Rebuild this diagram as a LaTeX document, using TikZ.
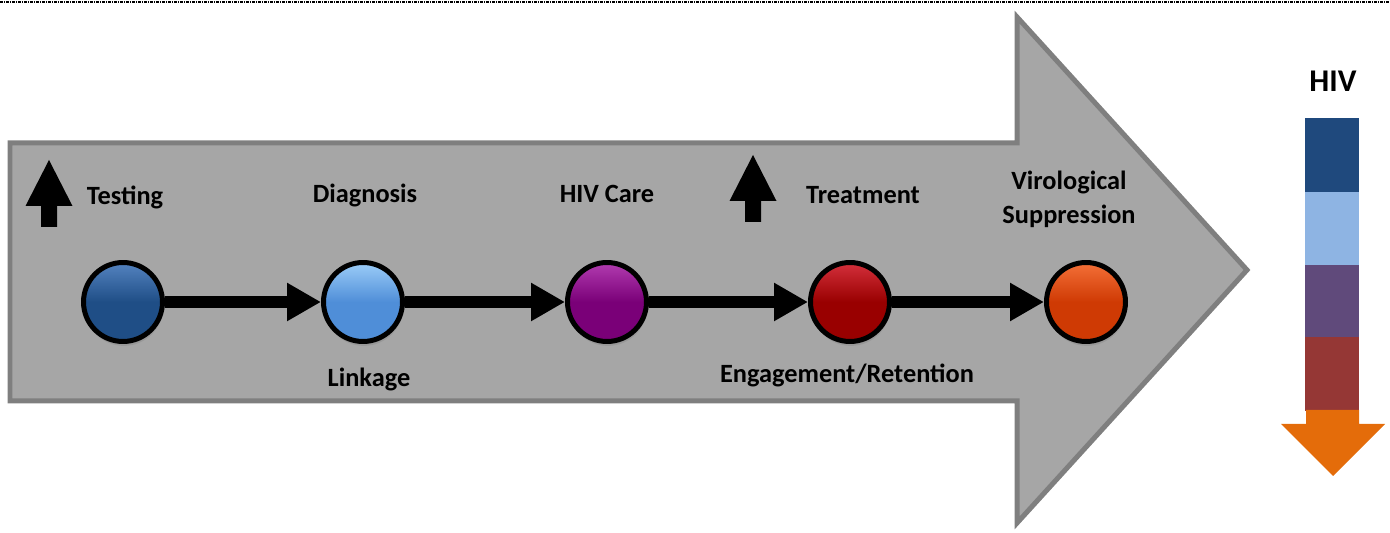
\documentclass[tikz,border=0pt]{standalone}
\usepackage{fontspec}
\setmainfont{Carlito}
\usetikzlibrary{arrows.meta,shadows,positioning}

\definecolor{bodygray}{HTML}{A6A6A6}
\definecolor{edgegray}{HTML}{7F7F7F}
\definecolor{c1}{HTML}{1F4E86}
\definecolor{c1top}{HTML}{5483C0}
\definecolor{c2}{HTML}{4F8ED8}
\definecolor{c2top}{HTML}{9CCDF8}
\definecolor{c3}{HTML}{7A0078}
\definecolor{c3top}{HTML}{B23CB0}
\definecolor{c4}{HTML}{990000}
\definecolor{c4top}{HTML}{D4303C}
\definecolor{c5}{HTML}{CF3A04}
\definecolor{c5top}{HTML}{F47038}
\definecolor{hiv1}{HTML}{1F497D}
\definecolor{hiv2}{HTML}{8EB4E3}
\definecolor{hiv3}{HTML}{604A7B}
\definecolor{hiv4}{HTML}{953735}
\definecolor{hiv5}{HTML}{E46C0A}

\tikzset{uparrow/.pic={\fill (0,0) -- (23.5,46) -- (8,46) -- (8,67) -- (-8,67) -- (-8,46) -- (-23.5,46) -- cycle;}}

\begin{document}
\begin{tikzpicture}[x=0.02cm, y=-0.02cm,
  stage/.style={circle, minimum size=1.58cm, inner sep=0pt, line width=0.1cm, draw=black,
    drop shadow={opacity=0.35, shadow xshift=0.5pt, shadow yshift=-2.5pt}},
  link/.style={line width=0.24cm, -{Triangle[length=0.68cm,width=0.72cm]}},
  lbl/.style={font=\fontsize{15pt}{19.9pt}\selectfont\bfseries, anchor=base, inner sep=0pt, align=center}]

\useasboundingbox (0,0) rectangle (1390,533);
\draw[line width=0.035cm, dash pattern=on 0.06cm off 0.02cm on 0.02cm off 0.02cm] (0,2) -- (1390,2);

% big arrow
\draw[fill=bodygray, draw=edgegray, line width=0.1cm] (10,143) -- (1017,143) -- (1017,17) -- (1247,270) -- (1017,523) -- (1017,401) -- (10,401) -- cycle;

\path (49,160) pic {uparrow};
\path (753,155) pic {uparrow};

\foreach \n/\x/\ct/\cb in {s1/123/c1top/c1, s2/363/c2top/c2, s3/607/c3top/c3, s4/850/c4top/c4, s5/1086/c5top/c5}
  \node[stage, top color=\ct, bottom color=\cb, middle color=\cb] (\n) at (\x,302) {};
\foreach \a/\b in {s1/s2, s2/s3, s3/s4, s4/s5}
  \draw[link] (\a) -- (\b);

\node[lbl] (testing) at (125,205) {Testing};
\node[lbl] (diagnosis) at (365,203) {Diagnosis};
\node[lbl] (care) at (607,203) {HIV Care};
\node[lbl] (treatment) at (863,204) {Treatment};
\node[lbl] (suppression) at (1069,224) {Virological\\Suppression};
\node[lbl] (linkage) at (369,387) {Linkage};
\node[lbl] (retention) at (847,383) {Engagement/Retention};

% HIV bar
\node[lbl, font=\fontsize{18pt}{20pt}\selectfont\bfseries] (hiv) at (1333,92) {HIV};
\fill[hiv1] (1305,118) rectangle (1359,192);
\fill[hiv2] (1305,192) rectangle (1359,265);
\fill[hiv3] (1305,265) rectangle (1359,337);
\fill[hiv4] (1305,337) rectangle (1359,411);
\fill[hiv5] (1306,410) -- (1359,410) -- (1359,424) -- (1385,424) -- (1333,476) -- (1281,424) -- (1306,424) -- cycle;
\end{tikzpicture}
\end{document}
